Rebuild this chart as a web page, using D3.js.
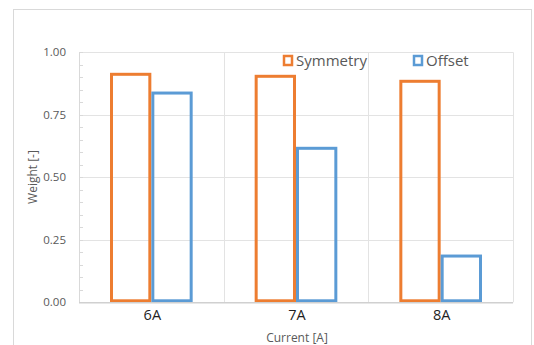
<!DOCTYPE html>
<html><head><meta charset="utf-8">
<script src="https://cdn.jsdelivr.net/npm/d3@7"></script>
<style>body{margin:0;background:#fff}svg{display:block}</style>
</head><body>
<script>
const categories = ["6A", "7A", "8A"];
const seriesNames = ["Symmetry", "Offset"];
const symmetry = [0.912, 0.904, 0.884];
const offset = [0.837, 0.616, 0.185];
const yTicks = [0, 0.25, 0.5, 0.75, 1.0];
const minorTicks = d3.range(0, 1.0001, 0.05);
const colors = ["#ED7D31", "#5B9BD5"];

const W = 534, H = 345;
const svg = d3.select("body").append("svg").attr("width", W).attr("height", H);
const font = "'Open Sans', 'Segoe UI', sans-serif";

// outer chart border
svg.append("rect").attr("x", 13.5).attr("y", 9.5).attr("width", 518).attr("height", 345)
  .attr("fill", "#fff").attr("stroke", "#d9d9d9").attr("stroke-width", 1);

const L = 79, R = 513, T = 52.3, B = 302.3;
const x = d3.scaleBand().domain(categories).range([L, R]).paddingInner(0).paddingOuter(0);
const xs = d3.scaleBand().domain(seriesNames).range([0, x.bandwidth()]).paddingInner(0).paddingOuter(0.75);
const y = d3.scaleLinear().domain([0, 1]).range([B, T]);

// horizontal gridlines
svg.append("g").selectAll("line").data(yTicks.filter(d => d > 0)).join("line")
  .attr("x1", L).attr("x2", R).attr("y1", d => Math.round(y(d)) + 0.5).attr("y2", d => Math.round(y(d)) + 0.5)
  .attr("stroke", "#e3e3e3").attr("stroke-width", 1);
// vertical gridlines at category boundaries
const bounds = categories.map(c => x(c)).concat([R]);
svg.append("g").selectAll("line").data(bounds.slice(1)).join("line")
  .attr("x1", d => Math.round(d) + 0.5).attr("x2", d => Math.round(d) + 0.5).attr("y1", T).attr("y2", B)
  .attr("stroke", "#e3e3e3").attr("stroke-width", 1);

// y axis line + minor ticks
svg.append("line").attr("x1", L + 0.5).attr("x2", L + 0.5).attr("y1", T).attr("y2", B)
  .attr("stroke", "#d9d9d9");
svg.append("g").selectAll("line").data(minorTicks).join("line")
  .attr("x1", L).attr("x2", L + 4).attr("y1", d => Math.round(y(d)) + 0.5).attr("y2", d => Math.round(y(d)) + 0.5)
  .attr("stroke", "#d9d9d9");

// y tick labels
const yAxis = d3.axisLeft(y).tickValues(yTicks).tickFormat(d3.format(".2f")).tickSize(0).tickPadding(13);
const ya = svg.append("g").attr("transform", `translate(${L},0)`).call(yAxis);
ya.select(".domain").remove();
ya.selectAll("text").attr("font-family", font).attr("font-size", 11.5).attr("fill", "#595959");

// bars
const series = [symmetry, offset];
series.forEach((vals, si) => {
  svg.append("g").selectAll("rect").data(vals).join("rect")
    .attr("x", (d, i) => x(categories[i]) + xs(seriesNames[si]) + 1.5)
    .attr("y", d => y(d))
    .attr("width", xs.bandwidth() - 3)
    .attr("height", d => B - y(d) - 1.5)
    .attr("fill", "none").attr("stroke", colors[si]).attr("stroke-width", 3);
});

// x axis baseline
svg.append("line").attr("x1", L).attr("x2", R).attr("y1", B + 0.5).attr("y2", B + 0.5)
  .attr("stroke", "#d0d0d0").attr("stroke-width", 1.5);

// x tick labels
const xAxis = d3.axisBottom(x).tickSize(0).tickPadding(5);
const xa = svg.append("g").attr("transform", `translate(1,${B})`).call(xAxis);
xa.select(".domain").remove();
xa.selectAll("text").attr("font-family", font).attr("font-size", 14.5)
  .attr("fill", "#1f1f1f").attr("dy", "0.85em");

// axis titles
svg.append("text").attr("x", 297).attr("y", 342).attr("text-anchor", "middle")
  .attr("font-family", font).attr("font-size", 12).attr("fill", "#595959").text("Current [A]");
svg.append("text").attr("transform", "translate(37,177) rotate(-90)").attr("text-anchor", "middle")
  .attr("font-family", font).attr("font-size", 12).attr("fill", "#595959").text("Weight [-]");

// legend
const legX = [283, 413];
seriesNames.forEach((n, i) => {
  const g = svg.append("g").attr("transform", `translate(${legX[i]},55)`);
  g.append("rect").attr("x", 1).attr("y", 1).attr("width", 8).attr("height", 9)
    .attr("fill", "none").attr("stroke", colors[i]).attr("stroke-width", 2.5);
  g.append("text").attr("x", 13).attr("y", 10.5).attr("font-family", font).attr("font-size", 15)
    .attr("fill", "#595959").text(n);
});
</script>
</body></html>
